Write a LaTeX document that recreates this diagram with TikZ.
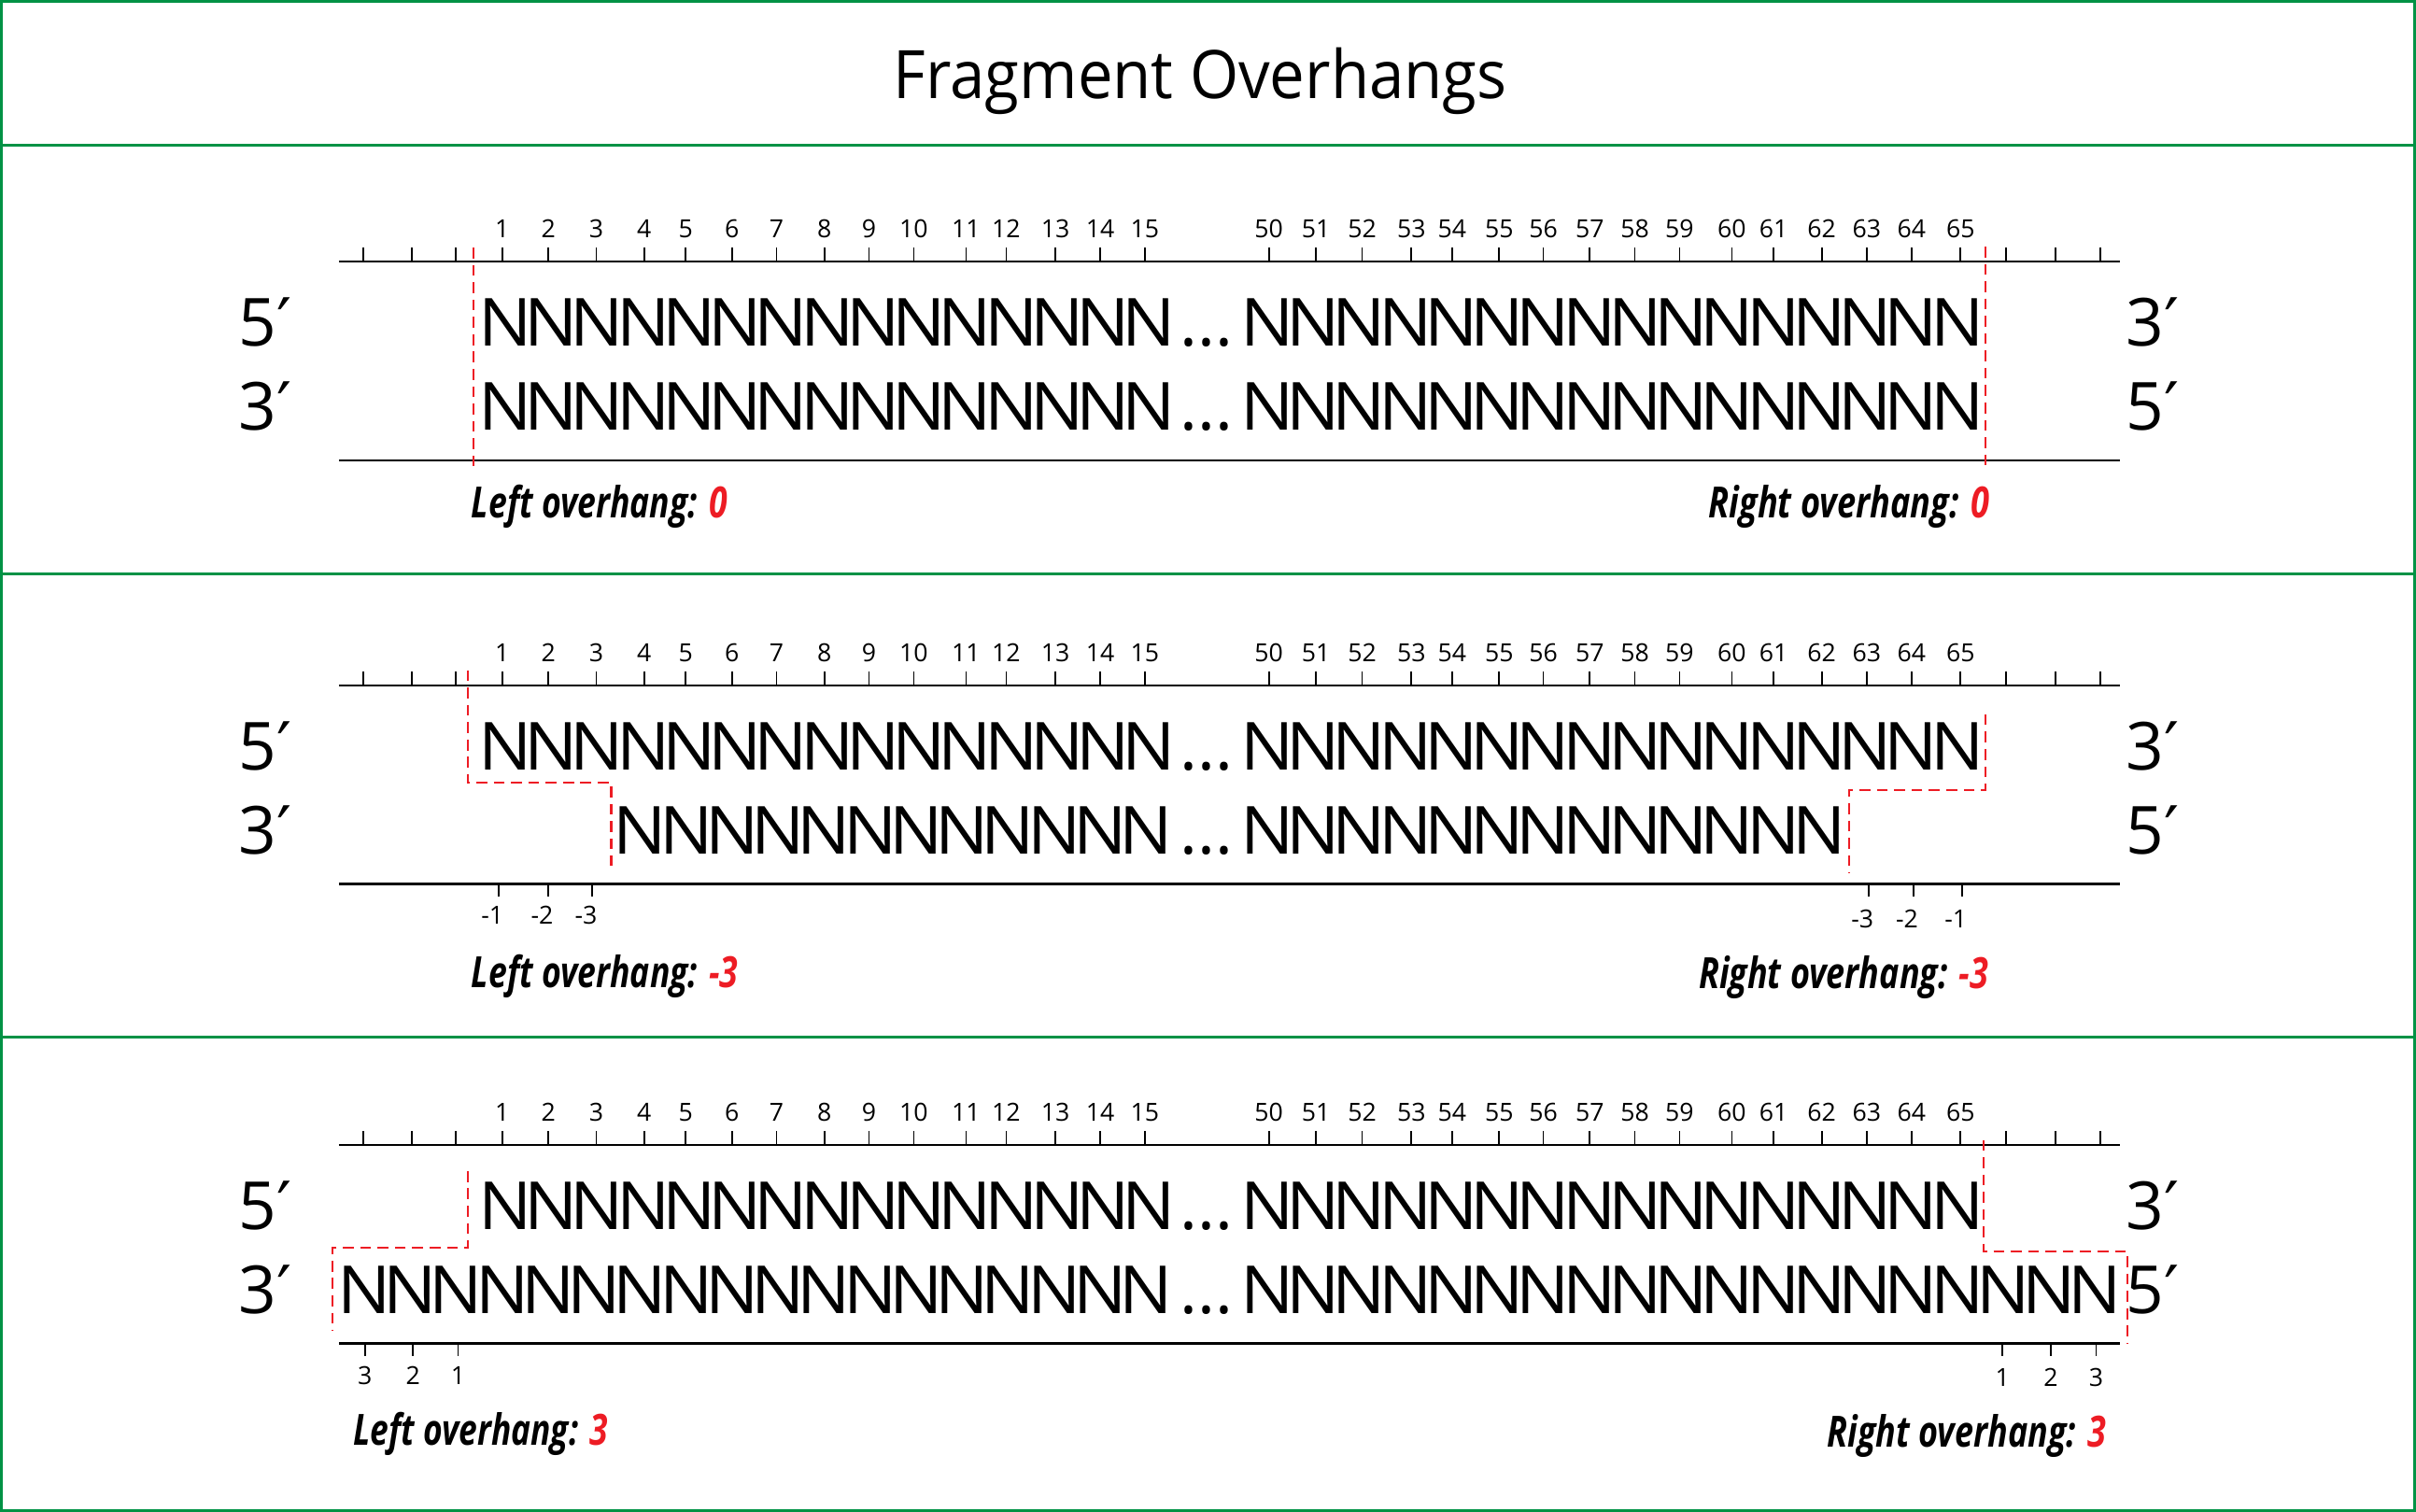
\documentclass[tikz,border=0pt]{standalone}
\usepackage{fontspec}
\usepackage{graphicx}
\setmainfont{Open Sans}
\newfontfamily\primefont{DejaVu Sans}
\definecolor{framegreen}{RGB}{0,146,69}
\definecolor{cutred}{RGB}{237,28,36}
\newlength\unitl \setlength\unitl{0.02cm}
\newlength\npitch \setlength\npitch{29.85\unitl}
\newcount\ncnt
\newcommand\oneN{\makebox[\npitch]{\resizebox{34.7\unitl}{\height}{N}}}
\newcommand\Nblk[1]{\ncnt=#1\relax\loop\oneN\advance\ncnt by -1\relax\ifnum\ncnt>0\repeat}
\newcommand\pr{{\primefont ′}}
\tikzset{
  basetext/.style={inner sep=0pt, outer sep=0pt, anchor=base west},
  nrow/.style={basetext, font=\fontsize{24.5}{29}\selectfont},
  side/.style={basetext, font=\fontsize{24.5}{29}\selectfont},
  num/.style={inner sep=0pt, outer sep=0pt, anchor=base, font=\fontsize{9.2}{11}\selectfont},
  ohlabel/.style={basetext, font=\fontsize{15.9}{19}\selectfont\bfseries\itshape},
  rulerline/.style={line width=0.8pt, black},
  tickline/.style={line width=0.6pt, black},
  cut/.style={draw=cutred, line width=0.7pt, dash pattern=on 4pt off 2.4pt},
  framebox/.style={draw=framegreen, line width=1pt}
}
\newcommand\panel[2]{%
\begin{scope}[shift={(0,#2)}]
  \draw[rulerline] (220,0) -- (1376,0);
  \draw[rulerline] (220,128.9) -- (1376,128.9);
  \foreach \x in {235.6,267.3,295.8,1302,1334,1363} \draw[tickline] (\x,-9) -- (\x,0);
  \foreach \x/\l in {326/1,356/2,387/3,418/4,445/5,475/6,504/7,535/8,564/9,593/10,627/11,653/12,685/13,714/14,743/15,
    823.5/50,854/51,884/52,916/53,942.4/54,973/55,1001.6/56,1031.8/57,1061/58,1090/59,1124/60,1151/61,1182.3/62,1211.5/63,1240.6/64,1272.4/65}
    {\draw[tickline] (\x,-9) -- (\x,0); \node[num] (#1n\l) at (\x,-15.4) {\l};}
  \node[side] (#1s1) at (155,55) {5\pr};
  \node[side] (#1s2) at (155,109.2) {3\pr};
  \node[side] (#1e1) at (1380,55) {3\pr};
  \node[side] (#1e2) at (1380,109.2) {5\pr};
\end{scope}}
\begin{document}
\begin{tikzpicture}[x=0.02cm, y=-0.02cm]
\useasboundingbox (0,0) rectangle (1568,981);
% frame
\draw[framebox] (0.9,0.9) rectangle (1567.1,980.1);
\draw[framebox] (0,94) -- (1568,94);
\draw[framebox] (0,372.7) -- (1568,372.7);
\draw[framebox] (0,673) -- (1568,673);
% title
\node[basetext, anchor=base, font=\fontsize{24.7}{30}\selectfont] (title) at (779,64.2)
  {\resizebox{398\unitl}{\height}{Fragment Overhangs}};

% ---------- panel 1 ----------
\panel{pa}{169.7}
\begin{scope}[shift={(0,169.7)}]
  \node[nrow] (pa1a) at (313,55) {\Nblk{15}};
  \node[nrow] (pa1d) at (766,55) {...};
  \node[nrow] (pa1b) at (807.6,55) {\Nblk{16}};
  \node[nrow] (pa2a) at (313,109.2) {\Nblk{15}};
  \node[nrow] (pa2d) at (766,109.2) {...};
  \node[nrow] (pa2b) at (807.6,109.2) {\Nblk{16}};
  \draw[cut] (307,-9) -- (307,136.3);
  \draw[cut] (1288.3,-9.7) -- (1288.3,136.3);
  \node[ohlabel] (paL) at (306,166.3) {\resizebox{166\unitl}{\height}{Left overhang: \textcolor{cutred}{0}}};
  \node[ohlabel] (paR) at (1109,166.3) {\resizebox{182\unitl}{\height}{Right overhang: \textcolor{cutred}{0}}};
\end{scope}

% ---------- panel 2 ----------
\panel{pb}{444.8}
\begin{scope}[shift={(0,444.8)}]
  \node[nrow] (pb1a) at (313,55) {\Nblk{15}};
  \node[nrow] (pb1d) at (766,55) {...};
  \node[nrow] (pb1b) at (807.6,55) {\Nblk{16}};
  \node[nrow] (pb2a) at (400.5,109.2) {\Nblk{12}};
  \node[nrow] (pb2d) at (766,109.2) {...};
  \node[nrow] (pb2b) at (807.6,109.2) {\Nblk{13}};
  \draw[cut] (303.5,-9.8) -- (303.5,63.2) -- (396.7,63.2) -- (396.7,116.8);
  \draw[cut] (1288.5,18.8) -- (1288.5,67.9) -- (1200,67.9) -- (1200,121.9);
  \foreach \x/\l in {323.6/-1,355.8/-2,384.3/-3} {\draw[tickline] (\x,128.9) -- (\x,137); \node[num] (pbbl\l) at (\x-4,155) {\l};}
  \foreach \x/\l in {1212.7/-3,1241.7/-2,1273.3/-1} {\draw[tickline] (\x,128.9) -- (\x,137); \node[num] (pbbr\l) at (\x-4,157.5) {\l};}
  \node[ohlabel] (pbL) at (306,196.2) {\resizebox{173\unitl}{\height}{Left overhang: \textcolor{cutred}{-3}}};
  \node[ohlabel] (pbR) at (1102.6,197) {\resizebox{188\unitl}{\height}{Right overhang: \textcolor{cutred}{-3}}};
\end{scope}

% ---------- panel 3 ----------
\panel{pc}{743}
\begin{scope}[shift={(0,743)}]
  \node[nrow] (pc1a) at (313,55) {\Nblk{15}};
  \node[nrow] (pc1d) at (766,55) {...};
  \node[nrow] (pc1b) at (807.6,55) {\Nblk{16}};
  \node[nrow] (pc2a) at (221.5,109.2) {\Nblk{18}};
  \node[nrow] (pc2d) at (766,109.2) {...};
  \node[nrow] (pc2b) at (807.6,109.2) {\Nblk{19}};
  \draw[cut] (303.6,17) -- (303.6,66.7) -- (215.6,66.7) -- (215.6,120.6);
  \draw[cut] (1287.3,-3.2) -- (1287.3,69) -- (1380.4,69) -- (1380.4,128.7);
  \foreach \x/\l in {236.8/3,268/2,297.3/1} {\draw[tickline] (\x,128.9) -- (\x,137); \node[num] (pcbl\l) at (\x,155.8) {\l};}
  \foreach \x/\l in {1299.6/1,1331/2,1360.4/3} {\draw[tickline] (\x,128.9) -- (\x,137); \node[num] (pcbr\l) at (\x,156.5) {\l};}
  \node[ohlabel] (pcL) at (229.5,195) {\resizebox{165\unitl}{\height}{Left overhang: \textcolor{cutred}{3}}};
  \node[ohlabel] (pcR) at (1186,196) {\resizebox{181\unitl}{\height}{Right overhang: \textcolor{cutred}{3}}};
\end{scope}
\end{tikzpicture}
\end{document}
